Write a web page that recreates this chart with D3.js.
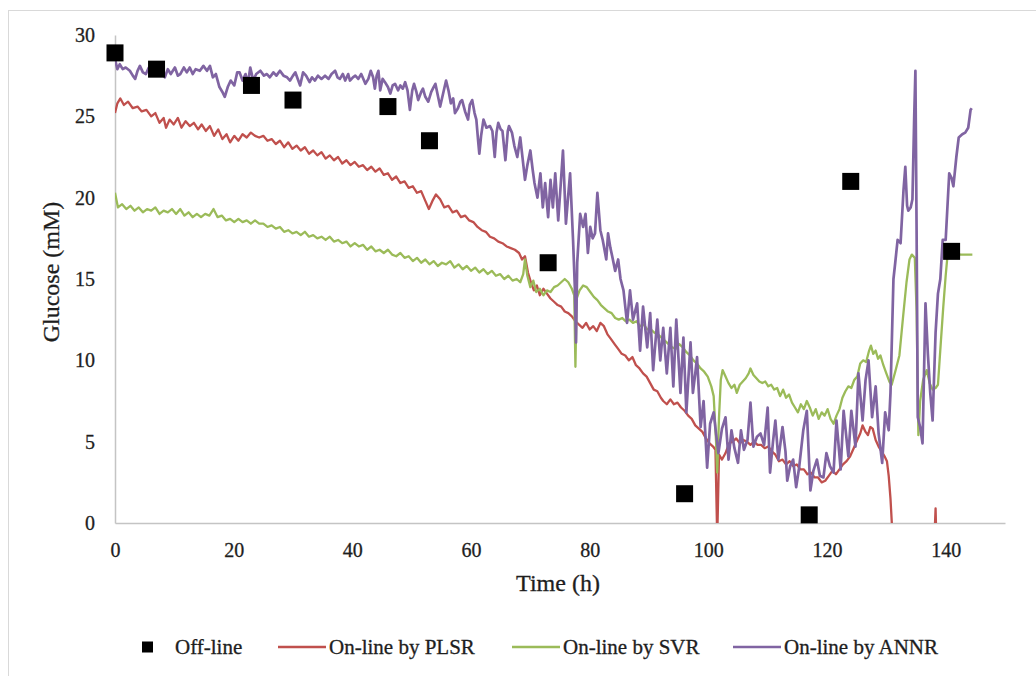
<!DOCTYPE html>
<html>
<head>
<meta charset="utf-8">
<script src="https://cdn.jsdelivr.net/npm/d3@7"></script>
<style>
  body { margin: 0; background: #fff; }
  svg text { font-family: "Liberation Serif", "Times New Roman", serif; fill: #1e1e1e; stroke: #1e1e1e; stroke-width: 0.3px; }
</style>
</head>
<body>
<div id="plot"></div>
<script>
// glucose series: [time (h), glucose (mM)]
var offline = [[0,28.9],[7,27.9],[23,26.9],[30,26.0],[46,25.6],[53,23.5],[73,16.0],[96,1.8],[117,0.5],[124,21.0],[141,16.7]];

var plsr = [[0,25.2],[0.4,25.8],[0.9,26.1],[1.5,25.7],[2.2,25.9],[3,25.5],[3.8,25.6],[4.5,25.3],[5.3,25.4],[6.1,25.0],[6.8,25.2],[7.5,24.6],[8.2,24.9],[8.6,24.3],[9.2,24.8],[9.9,24.5],[10.6,24.9],[11.2,24.3],[11.9,24.7],[12.6,24.4],[13.3,24.6],[14,24.2],[14.6,24.5],[15.3,24.1],[16,24.4],[16.7,23.8],[17.4,24.2],[18.1,23.6],[18.8,23.9],[19.4,23.4],[20.1,23.8],[20.8,23.5],[21.5,23.9],[22.2,23.7],[22.9,24.0],[23.6,23.8],[24.3,23.7],[25,23.8],[25.7,23.5],[26.4,23.6],[27.1,23.3],[27.8,23.5],[28.5,23.1],[29.2,23.4],[29.9,23.0],[30.6,23.2],[31.3,22.9],[32,23.1],[32.7,22.7],[33.4,22.9],[34.1,22.6],[34.8,22.8],[35.5,22.4],[36.2,22.6],[36.9,22.3],[37.6,22.5],[38.3,22.1],[39,22.3],[39.7,22.0],[40.4,22.2],[41.1,21.9],[41.8,22.0],[42.5,21.7],[43.2,21.9],[43.9,21.6],[44.6,21.8],[45.3,21.4],[46,21.5],[46.7,21.1],[47.4,21.3],[48.1,20.9],[48.8,21.0],[49.5,20.6],[50.2,20.7],[50.9,20.3],[51.6,20.4],[52.3,19.8],[52.9,19.3],[53.5,19.8],[54.1,20.2],[54.8,19.9],[55.5,19.4],[56.2,19.5],[56.9,19.1],[57.6,19.2],[58.3,18.8],[59,18.9],[59.7,18.6],[60.4,18.5],[61.1,18.2],[61.8,18.0],[62.5,17.9],[63.2,17.6],[63.9,17.5],[64.6,17.3],[65.3,17.2],[66,17.0],[66.7,16.9],[67.4,16.8],[68.1,16.6],[68.6,16.2],[69.1,16.4],[69.6,15.4],[70.1,14.8],[70.6,14.3],[71.1,14.6],[71.6,14.0],[72.2,14.4],[72.8,14.1],[73.4,13.8],[74,13.6],[74.6,13.4],[75.2,13.3],[75.8,13.0],[76.4,12.9],[77,12.7],[77.6,12.4],[78.2,12.2],[78.8,12.0],[79.4,12.3],[80,11.9],[80.6,12.1],[81.2,11.8],[81.8,12.3],[82.4,12.1],[83,11.6],[83.6,11.3],[84.2,11.0],[84.8,10.7],[85.4,10.4],[86,10.3],[86.6,10.0],[87.2,10.2],[87.8,9.7],[88.4,9.5],[89,9.2],[89.6,9.0],[90.2,8.6],[90.8,8.2],[91.4,8.1],[92,7.7],[92.4,7.5],[93,7.3],[93.6,7.6],[94.2,7.3],[94.8,7.4],[95.4,7.1],[96,6.9],[96.6,6.6],[97.2,6.4],[97.8,6.0],[98.4,5.8],[99,5.6],[99.6,5.2],[100.2,4.9],[100.8,4.7],[101.2,4.5],[101.5,-1],[101.8,4.2],[102.3,3.9],[102.9,4.3],[103.5,4.9],[104.1,5.0],[104.7,5.2],[105.3,4.9],[105.9,5.1],[106.5,5.0],[107.1,4.8],[107.7,5.0],[108.3,4.8],[108.9,4.8],[109.5,4.6],[110.1,4.7],[110.7,4.4],[111.3,4.2],[111.9,3.8],[112.5,3.9],[113.1,3.6],[113.7,3.8],[114.3,3.5],[114.9,3.6],[115.5,3.3],[116.1,3.3],[116.7,3.0],[117.3,3.1],[117.9,2.8],[118.5,2.8],[119.1,2.5],[119.7,2.6],[120.3,2.9],[120.9,3.2],[121.5,3.0],[122.1,3.3],[122.7,3.6],[123.3,3.8],[123.9,4.1],[124.5,4.6],[125.1,5.1],[125.6,5.5],[126,6.0],[126.5,5.6],[126.9,5.4],[127.3,5.9],[127.7,5.8],[128.2,5.1],[128.7,4.7],[129.2,4.4],[129.7,4.1],[130.1,3.8],[130.4,2.9],[130.7,1.5],[131,-0.5],[131.4,-3],[132,-4],[134,-4],[136,-4],[138,-2],[138.3,0.9],[138.5,-2],[140,-4],[145,-4]];

var svr = [[0,20.3],[0.5,19.4],[1.2,19.6],[1.9,19.3],[2.6,19.5],[3.3,19.2],[4,19.4],[4.7,19.1],[5.4,19.3],[6.1,19.2],[6.8,19.4],[7.5,19.0],[8.2,19.2],[8.9,19.1],[9.6,19.3],[10.3,19.0],[11,19.3],[11.7,18.9],[12.4,19.1],[13.1,18.8],[13.8,19.0],[14.5,18.8],[15.2,19.0],[15.9,18.9],[16.6,19.3],[17.3,18.8],[18,18.9],[18.7,18.6],[19.4,18.7],[20.1,18.5],[20.8,18.7],[21.5,18.5],[22.2,18.6],[22.9,18.4],[23.6,18.6],[24.3,18.4],[25,18.4],[25.7,18.2],[26.4,18.3],[27.1,18.1],[27.8,18.2],[28.5,17.9],[29.2,18.0],[29.9,17.8],[30.6,17.9],[31.3,17.7],[32,17.9],[32.7,17.6],[33.4,17.7],[34.1,17.5],[34.8,17.6],[35.5,17.4],[36.2,17.6],[36.9,17.3],[37.6,17.4],[38.3,17.2],[39,17.3],[39.7,17.0],[40.4,17.2],[41.1,17.0],[41.8,17.1],[42.5,16.8],[43.2,17.0],[43.9,16.7],[44.6,16.8],[45.3,16.6],[46,16.8],[46.7,16.5],[47.4,16.4],[48.1,16.6],[48.8,16.3],[49.5,16.4],[50.2,16.1],[50.9,16.3],[51.6,16.0],[52.3,16.2],[53,15.9],[53.7,16.1],[54.4,15.8],[55.1,16.0],[55.8,15.9],[56.5,16.1],[57.2,15.7],[57.9,15.9],[58.6,15.6],[59.3,15.8],[60,15.5],[60.7,15.7],[61.4,15.4],[62.1,15.6],[62.8,15.3],[63.5,15.5],[64.2,15.2],[64.9,15.3],[65.6,15.0],[66.3,15.2],[67,14.9],[67.7,15.0],[68.3,14.8],[68.8,15.3],[69.1,16.2],[69.5,15.2],[70,14.5],[70.5,14.9],[71,14.2],[71.6,14.4],[72.2,14.0],[72.8,14.3],[73.4,14.2],[74,14.5],[74.6,14.6],[75.2,14.8],[75.8,15.0],[76.4,14.8],[77,14.4],[77.4,14.0],[77.6,9.6],[77.8,13.8],[78.3,14.3],[78.9,14.6],[79.5,14.5],[80.1,14.2],[80.7,13.9],[81.3,13.7],[81.9,13.4],[82.5,13.2],[83.1,13.0],[83.7,12.9],[84.3,12.6],[84.9,12.5],[85.5,12.6],[86.1,12.4],[86.7,12.5],[87.3,12.3],[87.9,12.4],[88.5,12.1],[89.1,12.2],[89.7,11.9],[90.3,11.9],[90.9,11.7],[91.5,11.6],[92.1,11.4],[92.7,11.2],[93.3,11.0],[93.9,10.8],[94.5,10.7],[95.1,11.0],[95.7,10.8],[96.3,10.5],[96.9,10.3],[97.5,10.0],[98.1,9.8],[98.7,9.5],[99.3,9.3],[99.9,9.0],[100.5,8.4],[100.9,7.8],[101.3,5.0],[101.5,3.1],[101.8,6.5],[102.1,8.8],[102.4,9.4],[102.9,9.0],[103.4,8.6],[103.9,8.3],[104.4,8.5],[104.8,8.0],[105.3,8.5],[105.8,8.7],[106.3,8.9],[106.8,9.2],[107.1,9.5],[107.6,9.1],[108.1,8.9],[108.6,8.7],[109.1,8.6],[109.6,8.7],[110.1,8.4],[110.6,8.5],[111.1,8.2],[111.6,8.3],[112.1,7.8],[112.6,8.2],[113.1,7.7],[113.6,7.9],[114.1,7.4],[114.6,7.1],[115.1,6.8],[115.6,7.3],[116.1,7.0],[116.6,7.5],[117.1,7.1],[117.6,6.6],[118.1,7.0],[118.6,6.4],[119.1,6.8],[119.6,6.6],[120.1,7.0],[120.6,6.4],[121.1,6.1],[121.6,6.6],[122.1,7.0],[122.6,7.7],[123.1,8.1],[123.6,8.4],[124.1,8.3],[124.6,8.8],[125.1,9.0],[125.6,9.8],[126.1,10.0],[126.6,9.9],[127.1,10.6],[127.4,10.9],[127.8,10.4],[128.2,10.6],[128.6,10.1],[129,10.3],[129.5,9.7],[130,9.2],[130.5,8.7],[130.9,8.5],[131.5,9.3],[132.2,10.3],[132.8,12.6],[133.4,14.8],[133.9,16.2],[134.3,16.5],[134.8,16.3],[135.1,13.0],[135.4,5.4],[135.7,7.5],[136.2,8.8],[136.8,9.4],[137.3,8.6],[137.8,8.2],[138.3,8.3],[138.7,8.5],[139.2,11.2],[139.6,13.3],[140,15.2],[140.3,16.4],[140.8,16.5],[141.5,16.6],[142.5,16.5],[143.5,16.5],[144.5,16.5]];

var annr = [[0,28.5],[0.4,27.9],[0.8,28.2],[1.3,27.9],[1.8,28.0],[2.5,27.8],[3.0,27.5],[3.4,27.3],[3.8,27.8],[4.2,28.1],[4.7,27.7],[5.2,27.6],[5.7,28.0],[6.2,27.5],[6.7,28.0],[7.2,27.7],[7.6,28.0],[8.0,27.7],[8.4,27.4],[8.9,27.9],[9.4,27.6],[10.1,28.0],[10.6,27.5],[11.0,27.6],[11.6,28.0],[12.1,27.7],[12.6,28.0],[13.1,27.6],[13.6,27.9],[14.3,27.8],[14.9,28.1],[15.5,27.8],[16.0,28.1],[16.5,27.4],[17.0,27.6],[17.6,26.8],[18.1,26.5],[18.5,26.2],[19.0,26.8],[19.5,27.2],[20.1,26.9],[20.6,27.7],[21.0,27.7],[21.5,27.2],[22.0,27.6],[22.4,27.0],[22.8,28.0],[23.3,27.2],[23.8,27.6],[24.5,27.8],[25.1,27.5],[25.6,27.6],[26.1,27.4],[26.7,27.7],[27.2,27.5],[27.8,27.8],[28.4,27.5],[29.0,27.4],[29.5,27.2],[30.0,27.5],[30.4,27.7],[30.8,27.3],[31.2,26.9],[31.7,27.7],[32.2,27.5],[32.8,27.1],[33.2,27.4],[33.7,27.2],[34.2,27.5],[34.8,27.3],[35.4,27.5],[36.0,27.3],[36.5,27.6],[37.1,27.8],[37.5,27.4],[37.9,27.3],[38.4,27.6],[38.8,27.2],[39.3,27.6],[39.6,27.2],[40.1,27.4],[40.5,27.5],[41.0,27.3],[41.5,27.6],[42.2,27.0],[42.7,27.3],[43.1,27.8],[43.5,27.4],[43.8,26.7],[44.1,27.5],[44.4,27.8],[44.7,26.6],[45.1,27.3],[45.5,27.1],[46.0,26.8],[46.4,26.4],[46.8,26.9],[47.2,27.0],[47.7,26.6],[48.1,26.9],[48.5,26.7],[48.9,27.1],[49.3,26.6],[49.7,25.4],[50.1,26.6],[50.4,27.0],[50.8,26.5],[51.1,26.0],[51.6,26.5],[51.9,26.7],[52.3,26.2],[52.8,25.9],[53.3,26.5],[53.7,26.8],[54.0,27.0],[54.4,26.3],[54.8,25.6],[55.3,26.4],[55.8,27.2],[56.2,26.6],[56.6,25.8],[57.0,26.1],[57.3,25.2],[57.8,25.5],[58.2,25.9],[58.5,26.0],[59.0,25.3],[59.5,24.8],[59.8,25.7],[60.2,26.0],[60.6,25.2],[60.9,24.8],[61.2,23.5],[61.4,22.7],[61.7,23.8],[62.1,24.8],[62.6,24.3],[63.2,24.4],[63.6,24.1],[64.0,22.5],[64.3,24.0],[64.6,24.6],[65.0,24.2],[65.3,24.1],[65.8,22.3],[66.2,24.1],[66.4,24.4],[66.9,24.0],[67.3,23.2],[67.8,22.5],[68.3,23.7],[68.7,22.4],[69.1,21.1],[69.5,22.0],[70.0,22.9],[70.4,21.7],[70.7,20.9],[71.2,20.0],[71.7,21.5],[72.1,19.4],[72.5,20.9],[73.0,18.8],[73.4,21.1],[73.8,19.4],[74.2,21.5],[74.7,18.6],[75.1,20.7],[75.5,22.9],[76.0,18.4],[76.4,20.2],[76.7,21.5],[77.2,17.4],[77.5,14.5],[77.7,11.1],[77.9,16.0],[78.4,19.0],[78.9,18.2],[79.3,19.0],[79.7,16.6],[80.1,18.2],[80.5,17.5],[80.9,17.8],[81.3,20.3],[81.8,18.0],[82.2,17.4],[82.8,16.2],[83.1,17.8],[83.5,16.9],[83.8,16.4],[84.3,15.5],[84.8,16.2],[85.2,15.0],[85.7,14.3],[86.3,12.3],[86.8,14.3],[87.3,12.5],[88.0,13.5],[88.5,10.6],[89.0,13.3],[89.7,10.8],[90.2,12.9],[90.7,9.4],[91.4,12.5],[91.9,10.0],[92.4,12.0],[93.0,9.2],[93.6,12.0],[94.1,8.4],[94.6,12.5],[95.3,8.0],[95.8,11.4],[96.3,6.8],[97.0,11.1],[97.4,8.0],[97.8,9.2],[98.1,10.2],[98.7,5.9],[99.2,7.5],[99.8,3.4],[100.3,6.1],[100.9,6.8],[101.3,5.5],[101.7,4.3],[102.3,5.8],[102.9,6.5],[103.4,3.9],[103.9,5.7],[104.4,4.6],[105.0,3.7],[105.5,5.7],[106.0,4.5],[106.6,5.1],[107.1,7.4],[107.6,4.7],[108.2,5.3],[108.8,5.5],[109.4,4.8],[110.0,7.1],[110.4,3.1],[110.9,5.0],[111.3,6.3],[111.8,3.9],[112.5,5.9],[113.0,4.4],[113.3,2.6],[113.8,3.5],[114.3,3.9],[114.8,2.2],[115.3,3.4],[116.0,5.7],[116.6,6.9],[117.2,2.0],[117.7,3.2],[118.3,3.9],[118.8,2.9],[119.4,2.8],[119.9,4.3],[120.5,3.5],[121.1,3.1],[121.6,6.3],[122.3,3.3],[122.8,6.9],[123.6,4.1],[124.1,6.9],[124.8,4.7],[125.3,9.2],[126.0,6.3],[126.5,8.8],[127.0,10.0],[127.6,6.5],[128.2,8.4],[128.7,5.5],[129.3,3.7],[129.8,6.8],[130.4,5.7],[130.7,8.0],[131.2,15.0],[131.5,16.0],[131.9,17.4],[132.4,17.2],[132.9,20.5],[133.2,21.9],[133.5,19.5],[133.7,19.2],[134.1,19.4],[134.4,19.9],[134.7,25.0],[134.9,27.8],[135.1,18.0],[135.3,6.5],[135.7,5.9],[136.1,4.9],[136.6,13.5],[137.0,10.4],[137.4,8.0],[137.8,6.3],[138.3,11.7],[138.7,14.1],[139.1,15.0],[139.5,17.4],[140.0,17.4],[140.6,21.5],[141.0,21.2],[141.3,20.7],[141.8,22.5],[142.2,23.7],[142.8,23.9],[143.3,24.0],[143.8,24.3],[144.2,25.4],[144.4,25.5]];

var xTicks = [0, 20, 40, 60, 80, 100, 120, 140];
var yTicks = [0, 5, 10, 15, 20, 25, 30];

var seriesNames = ['On-line by PLSR', 'On-line by SVR', 'On-line by ANNR'];
var seriesColors = ['#C0504D', '#9BBB59', '#8064A2'];
var seriesWidths = [2.3, 2.3, 2.7];

var W = 1036, H = 676;

var svg = d3.select('#plot')
	.append('svg')
	.attr('width', W)
	.attr('height', H);

// outer chart frame (runs off the right and bottom edges)
svg.append('rect')
	.attr('x', 8.5).attr('y', 10.5)
	.attr('width', W + 10).attr('height', H + 10)
	.attr('fill', 'none')
	.attr('stroke', '#d9d9d9');

var x = d3.scaleLinear().domain([0, 150]).range([115, 1005]);
var y = d3.scaleLinear().domain([0, 30]).range([523, 35]);

// axes, no tick marks, light grey rules
var xAxis = svg.append('g')
	.attr('transform', 'translate(0,' + y(0) + ')')
	.call(d3.axisBottom(x).tickValues(xTicks).tickSize(0).tickPadding(20));

var yAxis = svg.append('g')
	.attr('transform', 'translate(' + x(0) + ',0)')
	.call(d3.axisLeft(y).tickValues(yTicks).tickSize(0).tickPadding(20));

[xAxis, yAxis].forEach(function(a){
	a.select('.domain').attr('stroke', '#c4c4c4').attr('stroke-width', 1.5);
	a.selectAll('text')
		.style('font-family', '"Liberation Serif", serif')
		.style('font-size', '20px')
		.attr('fill', '#1e1e1e');
});

// clip the on-line traces to the plot area
svg.append('clipPath').attr('id', 'area')
	.append('rect')
	.attr('x', x(0)).attr('y', y(30))
	.attr('width', x(150) - x(0)).attr('height', y(0) - y(30));

var line = d3.line()
	.x(function(d){ return x(d[0]); })
	.y(function(d){ return y(d[1]); });

var traces = [plsr, svr, annr];
traces.forEach(function(s, i){
	svg.append('path')
		.datum(s)
		.attr('clip-path', 'url(#area)')
		.attr('fill', 'none')
		.attr('stroke', seriesColors[i])
		.attr('stroke-width', seriesWidths[i])
		.attr('stroke-linejoin', 'round')
		.attr('d', line);
});

// off-line samples
var sq = 17;
svg.selectAll('.sample')
	.data(offline)
	.enter()
	.append('rect')
	.attr('class', 'sample')
	.attr('x', function(d){ return x(d[0]) - sq / 2; })
	.attr('y', function(d){ return y(d[1]) - sq / 2; })
	.attr('width', sq)
	.attr('height', sq)
	.attr('fill', '#000');

// axis titles
svg.append('text')
	.attr('x', 558).attr('y', 591)
	.attr('text-anchor', 'middle')
	.style('font-size', '24px')
	.text('Time (h)');

svg.append('text')
	.attr('transform', 'translate(59,272) rotate(-90)')
	.attr('text-anchor', 'middle')
	.style('font-size', '24px')
	.text('Glucose (mM)');

// legend
var ly = 647;
var legend = svg.append('g').style('font-size', '21px');

legend.append('rect')
	.attr('x', 142).attr('y', ly - 5.5)
	.attr('width', 11).attr('height', 11)
	.attr('fill', '#000');
legend.append('text')
	.attr('x', 175).attr('y', ly + 7)
	.text('Off-line');

var legendX = [278, 512, 733];
seriesNames.forEach(function(name, i){
	legend.append('line')
		.attr('x1', legendX[i]).attr('x2', legendX[i] + 48)
		.attr('y1', ly).attr('y2', ly)
		.attr('stroke', seriesColors[i])
		.attr('stroke-width', 2.6);
	legend.append('text')
		.attr('x', legendX[i] + 51).attr('y', ly + 7)
		.text(name);
});
</script>
</body>
</html>
